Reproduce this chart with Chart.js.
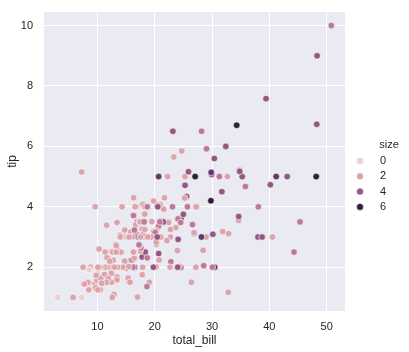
<!DOCTYPE html>
<html>
<head>
<meta charset="utf-8">
<script src="https://cdn.jsdelivr.net/npm/chart.js@4"></script>
<style>
  html, body { margin: 0; padding: 0; background: #fff; }
  #wrap { width: 409px; height: 352px; }
</style>
</head>
<body>
<div id="wrap"><canvas id="c" width="409" height="352"></canvas></div>
<script>
// tips dataset: total_bill, tip, size
const totalBill = [16.99,10.34,21.01,23.68,24.59,25.29,8.77,26.88,15.04,14.78,10.27,35.26,15.42,18.43,14.83,21.58,10.33,16.29,16.97,20.65,
17.92,20.29,15.77,39.42,19.82,17.81,13.37,12.69,21.7,19.65,9.55,18.35,15.06,20.69,17.78,24.06,16.31,16.93,18.69,31.27,
16.04,17.46,13.94,9.68,30.4,18.29,22.23,32.4,28.55,18.04,12.54,10.29,34.81,9.94,25.56,19.49,38.01,26.41,11.24,48.27,
20.29,13.81,11.02,18.29,17.59,20.08,16.45,3.07,20.23,15.01,12.02,17.07,26.86,25.28,14.73,10.51,17.92,27.2,22.76,17.29,
19.44,16.66,10.07,32.68,15.98,34.83,13.03,18.28,24.71,21.16,28.97,22.49,5.75,16.32,22.75,40.17,27.28,12.03,21.01,12.46,
11.35,15.38,44.3,22.42,20.92,15.36,20.49,25.21,18.24,14.31,14.0,7.25,38.07,23.95,25.71,17.31,29.93,10.65,12.43,24.08,
11.69,13.42,14.26,15.95,12.48,29.8,8.52,14.52,11.38,22.82,19.08,20.27,11.17,12.26,18.26,8.51,10.33,14.15,16.0,13.16,
17.47,34.3,41.19,27.05,16.43,8.35,18.64,11.87,9.78,7.51,14.07,13.13,17.26,24.55,19.77,29.85,48.17,25.0,13.39,16.49,
21.5,12.66,16.21,13.81,17.51,24.52,20.76,31.71,10.59,10.63,50.81,15.81,7.25,31.85,16.82,32.9,17.89,14.48,9.6,34.63,
34.65,23.33,45.35,23.17,40.55,20.69,20.9,30.46,18.15,23.1,15.69,19.81,28.44,15.48,16.58,7.56,10.34,43.11,13.0,13.51,
18.71,12.74,13.0,16.4,20.53,16.47,26.59,38.73,24.27,12.76,30.06,25.89,48.33,13.27,28.17,12.9,28.15,11.59,7.74,30.14,
12.16,13.42,8.58,15.98,13.42,16.27,10.09,20.45,13.28,22.12,24.01,15.69,11.61,10.77,15.53,10.07,12.6,32.83,35.83,29.03,
27.18,22.67,17.82,18.78];
const tip = [1.01,1.66,3.5,3.31,3.61,4.71,2.0,3.12,1.96,3.23,1.71,5.0,1.57,3.0,3.02,3.92,1.67,3.71,3.5,3.35,
4.08,2.75,2.23,7.58,3.18,2.34,2.0,2.0,4.3,3.0,1.45,2.5,3.0,2.45,3.27,3.6,2.0,3.07,2.31,5.0,
2.24,2.54,3.06,1.32,5.6,3.0,5.0,6.0,2.05,3.0,2.5,2.6,5.2,1.56,4.34,3.51,3.0,1.5,1.76,6.73,
3.21,2.0,1.98,3.76,2.64,3.15,2.47,1.0,2.01,2.09,1.97,3.0,3.14,5.0,2.2,1.25,3.08,4.0,3.0,2.71,
3.0,3.4,1.83,5.0,2.03,5.17,2.0,4.0,5.85,3.0,3.0,3.5,1.0,4.3,3.25,4.73,4.0,1.5,3.0,1.5,
2.5,3.0,2.5,3.48,4.08,1.64,4.06,4.29,3.76,4.0,3.0,1.0,4.0,2.55,4.0,3.5,5.07,1.5,1.8,2.92,
2.31,1.68,2.5,2.0,2.52,4.2,1.48,2.0,2.0,2.18,1.5,2.83,1.5,2.0,3.25,1.25,2.0,2.0,2.0,2.75,
3.5,6.7,5.0,5.0,2.3,1.5,1.36,1.63,1.73,2.0,2.5,2.0,2.74,2.0,2.0,5.14,5.0,3.75,2.61,2.0,
3.5,2.5,2.0,2.0,3.0,3.48,2.24,4.5,1.61,2.0,10.0,3.16,5.15,3.18,4.0,3.11,2.0,2.0,4.0,3.55,
3.68,5.65,3.5,6.5,3.0,5.0,3.5,2.0,3.5,4.0,1.5,4.19,2.56,2.02,4.0,1.44,2.0,5.0,2.0,2.0,
4.0,2.01,2.0,2.5,4.0,3.23,3.41,3.0,2.03,2.23,2.0,5.16,9.0,2.5,6.5,1.1,3.0,1.5,1.44,3.09,
2.2,3.48,1.92,3.0,1.58,2.5,2.0,3.0,2.72,2.88,2.0,3.0,3.39,1.47,3.0,1.25,1.0,1.17,4.67,5.92,
2.0,2.0,1.75,3.0];
const partySize = [2,3,3,2,4,4,2,4,2,2,2,4,2,4,2,2,3,3,3,3,
2,2,2,4,2,4,2,2,2,2,2,4,2,4,2,3,3,3,3,3,
3,2,2,2,4,2,2,4,3,2,2,2,4,2,4,2,4,2,2,4,
2,2,2,4,3,3,2,1,2,2,2,3,2,2,2,2,2,4,2,2,
2,2,1,2,2,4,2,2,2,2,2,2,2,2,2,4,2,2,2,2,
2,2,3,2,2,2,2,2,2,2,2,1,3,2,3,2,4,2,2,4,
2,2,2,2,2,6,2,2,2,3,2,2,2,2,2,2,2,2,2,2,
2,6,5,6,2,2,3,2,2,2,2,2,3,4,4,5,6,4,2,4,
4,2,3,2,2,3,2,4,2,2,3,2,2,2,2,2,2,2,2,2,
4,2,3,4,2,5,3,5,3,3,2,2,2,2,2,2,2,4,2,2,
3,2,2,2,4,3,3,4,2,2,3,4,4,2,3,2,5,2,2,4,
2,2,1,3,2,2,2,4,2,2,4,3,2,2,2,2,2,2,3,3,
2,2,2,2];
const legendLevels = [0, 2, 4, 6];
const xTicks = [10, 20, 30, 40, 50];
const yTicks = [2, 4, 6, 8, 10];

// seaborn default cubehelix colormap (light -> dark)
function cubehelix(t) {
  t = Math.max(0, Math.min(1, t));
  const x = 0.85 + (0.15 - 0.85) * t;
  const a = 0.8 * x * (1 - x) / 2;
  const phi = 2 * Math.PI * (0 / 3 + 0.4 * x);
  const c = (p0, p1) => Math.round(255 * Math.max(0, Math.min(1, x + a * (p0 * Math.cos(phi) + p1 * Math.sin(phi)))));
  return 'rgb(' + c(-0.14861, 1.78277) + ',' + c(-0.29227, -0.90649) + ',' + c(1.97294, 0) + ')';
}
const sMin = Math.min(...partySize), sMax = Math.max(...partySize);
const sizeColor = s => cubehelix((s - sMin) / (sMax - sMin));

const points = totalBill.map((v, i) => ({ x: v, y: tip[i] }));

// fondo del área de trazado
const plotBg = {
  id: 'plotBg',
  beforeDraw(chart) {
    const { ctx, chartArea: a } = chart;
    ctx.save();
    ctx.fillStyle = '#eaeaf2';
    ctx.fillRect(a.left, a.top, a.right - a.left, a.bottom - a.top);
    ctx.restore();
  }
};

// leyenda de "size" a la derecha
const sizeLegend = {
  id: 'sizeLegend',
  afterDraw(chart) {
    const ctx = chart.ctx;
    ctx.save();
    ctx.font = '11px "Liberation Sans", Arial, sans-serif';
    ctx.fillStyle = '#262626';
    ctx.textBaseline = 'middle';
    ctx.textAlign = 'center';
    ctx.fillText('size', 389, 145);
    legendLevels.forEach((lv, i) => {
      const y = 161 + i * 15.3;
      ctx.beginPath();
      ctx.arc(360, y, 3.5, 0, Math.PI * 2);
      ctx.fillStyle = sizeColor(lv);
      ctx.fill();
      ctx.lineWidth = 0.6;
      ctx.strokeStyle = '#fff';
      ctx.stroke();
      ctx.fillStyle = '#262626';
      ctx.textAlign = 'left';
      ctx.fillText(String(lv), 380, y);
    });
    ctx.restore();
  }
};

const font = { family: '"Liberation Sans", Arial, sans-serif', size: 11 };

new Chart(document.getElementById('c').getContext('2d'), {
  type: 'scatter',
  data: {
    datasets: [{
      data: points,
      backgroundColor: ctx => sizeColor(partySize[ctx.dataIndex]),
      borderColor: '#ffffff',
      borderWidth: 0.6,
      pointRadius: 3.3,
      pointHoverRadius: 3.3
    }]
  },
  options: {
    responsive: false,
    animation: false,
    layout: { padding: { left: 0, right: 64, top: 12, bottom: 0 } },
    plugins: { legend: { display: false }, tooltip: { enabled: false } },
    scales: {
      x: {
        type: 'linear',
        min: 0.683,
        max: 53.197,
        afterBuildTicks: s => { s.ticks = xTicks.map(v => ({ value: v })); },
        afterFit: s => { s.height = 41; s.paddingLeft = 0; s.paddingRight = 0; },
        grid: { color: '#ffffff', lineWidth: 1, drawTicks: false },
        border: { display: false },
        ticks: { font, color: '#262626', padding: 9 },
        title: { display: true, text: 'total_bill', font: { family: font.family, size: 12 }, color: '#262626', padding: { top: 0, bottom: 4 } }
      },
      y: {
        type: 'linear',
        min: 0.55,
        max: 10.45,
        afterBuildTicks: s => { s.ticks = yTicks.map(v => ({ value: v })); },
        afterFit: s => { s.width = 44; s.paddingTop = 0; s.paddingBottom = 0; },
        grid: { color: '#ffffff', lineWidth: 1, drawTicks: false },
        border: { display: false },
        ticks: { font, color: '#262626', padding: 11 },
        title: { display: true, text: 'tip', font: { family: font.family, size: 12 }, color: '#262626', padding: { top: 5, bottom: 0 } }
      }
    }
  },
  plugins: [plotBg, sizeLegend]
});
</script>
</body>
</html>
